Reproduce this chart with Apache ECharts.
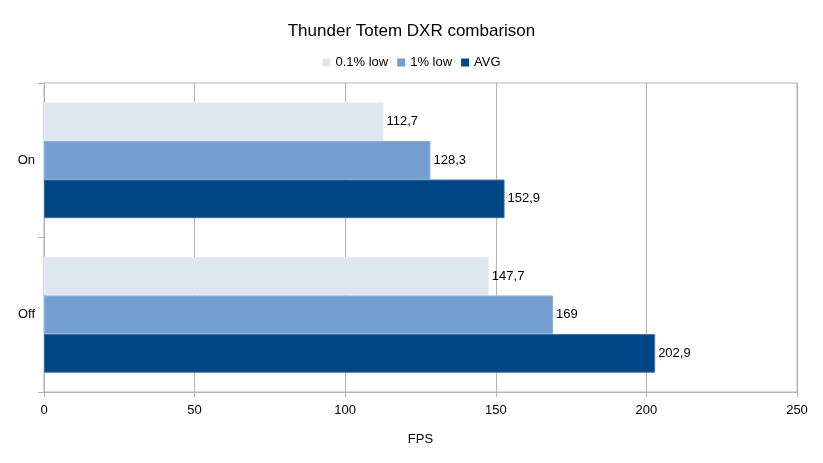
<!DOCTYPE html>
<html><head><meta charset="utf-8">
<script src="https://cdn.jsdelivr.net/npm/echarts@6/dist/echarts.min.js"></script>
<style>html,body{margin:0;padding:0;background:#fff}#c{width:823px;height:463px}</style>
</head><body><div id="c"></div>
<script>
var categories = ['On', 'Off'];
var low01 = [112.7, 147.7];
var low1 = [128.3, 169];
var avg = [152.9, 202.9];
var xTicks = [0, 50, 100, 150, 200, 250];
var seriesNames = ['0.1% low', '1% low', 'AVG'];
var colors = ['#dee6ef', '#729fcf', '#004586'];
var borders = ['#e8eef5', '#8db0d8', '#3a6fa3'];

var chart = echarts.init(document.getElementById('c'), null, {renderer: 'canvas'});
function fmt(p){ return String(p.value).replace('.', ','); }
function mk(name, data, i){
  return {
    name: name, type: 'bar', data: data,
    barGap: '0%', barCategoryGap: '25%',
    itemStyle: {color: colors[i], borderColor: borders[i], borderWidth: 1},
    label: {show: true, position: 'right', distance: 3, formatter: fmt,
      color: '#000', fontSize: 13, fontFamily: 'Liberation Sans'}
  };
}
chart.setOption({
  animation: false,
  textStyle: {fontFamily: 'Liberation Sans'},
  title: {text: 'Thunder Totem DXR combarison', left: 'center', top: 18,
    textStyle: {fontSize: 17, fontWeight: 'normal', color: '#000', fontFamily: 'Liberation Sans'}},
  legend: {top: 51, left: 'center', itemWidth: 8, itemHeight: 8, itemGap: 9,
    icon: 'rect', itemStyle: {borderWidth: 0},
    textStyle: {fontSize: 13, color: '#000', fontFamily: 'Liberation Sans'},
    data: seriesNames},
  grid: {left: 44, right: 26, top: 83, bottom: 71, show: true, borderColor: '#b3b3b3', borderWidth: 1},
  xAxis: {type: 'value', min: xTicks[0], max: xTicks[xTicks.length - 1], interval: 50,
    name: 'FPS', nameLocation: 'middle', nameGap: 41,
    nameTextStyle: {fontSize: 13, color: '#000', fontFamily: 'Liberation Sans'},
    axisLine: {show: true, lineStyle: {color: '#b3b3b3'}},
    axisTick: {show: true, length: 5, lineStyle: {color: '#b3b3b3'}},
    axisLabel: {fontSize: 13, color: '#000', margin: 12},
    splitLine: {show: true, lineStyle: {color: '#b3b3b3'}}},
  yAxis: {type: 'category', data: categories, inverse: true,
    axisLine: {show: true, lineStyle: {color: '#b3b3b3'}},
    axisTick: {show: true, length: 6, lineStyle: {color: '#b3b3b3'}},
    axisLabel: {fontSize: 13, color: '#000', margin: 9},
    splitLine: {show: false}},
  series: [mk(seriesNames[0], low01, 0), mk(seriesNames[1], low1, 1), mk(seriesNames[2], avg, 2)]
});
</script></body></html>
